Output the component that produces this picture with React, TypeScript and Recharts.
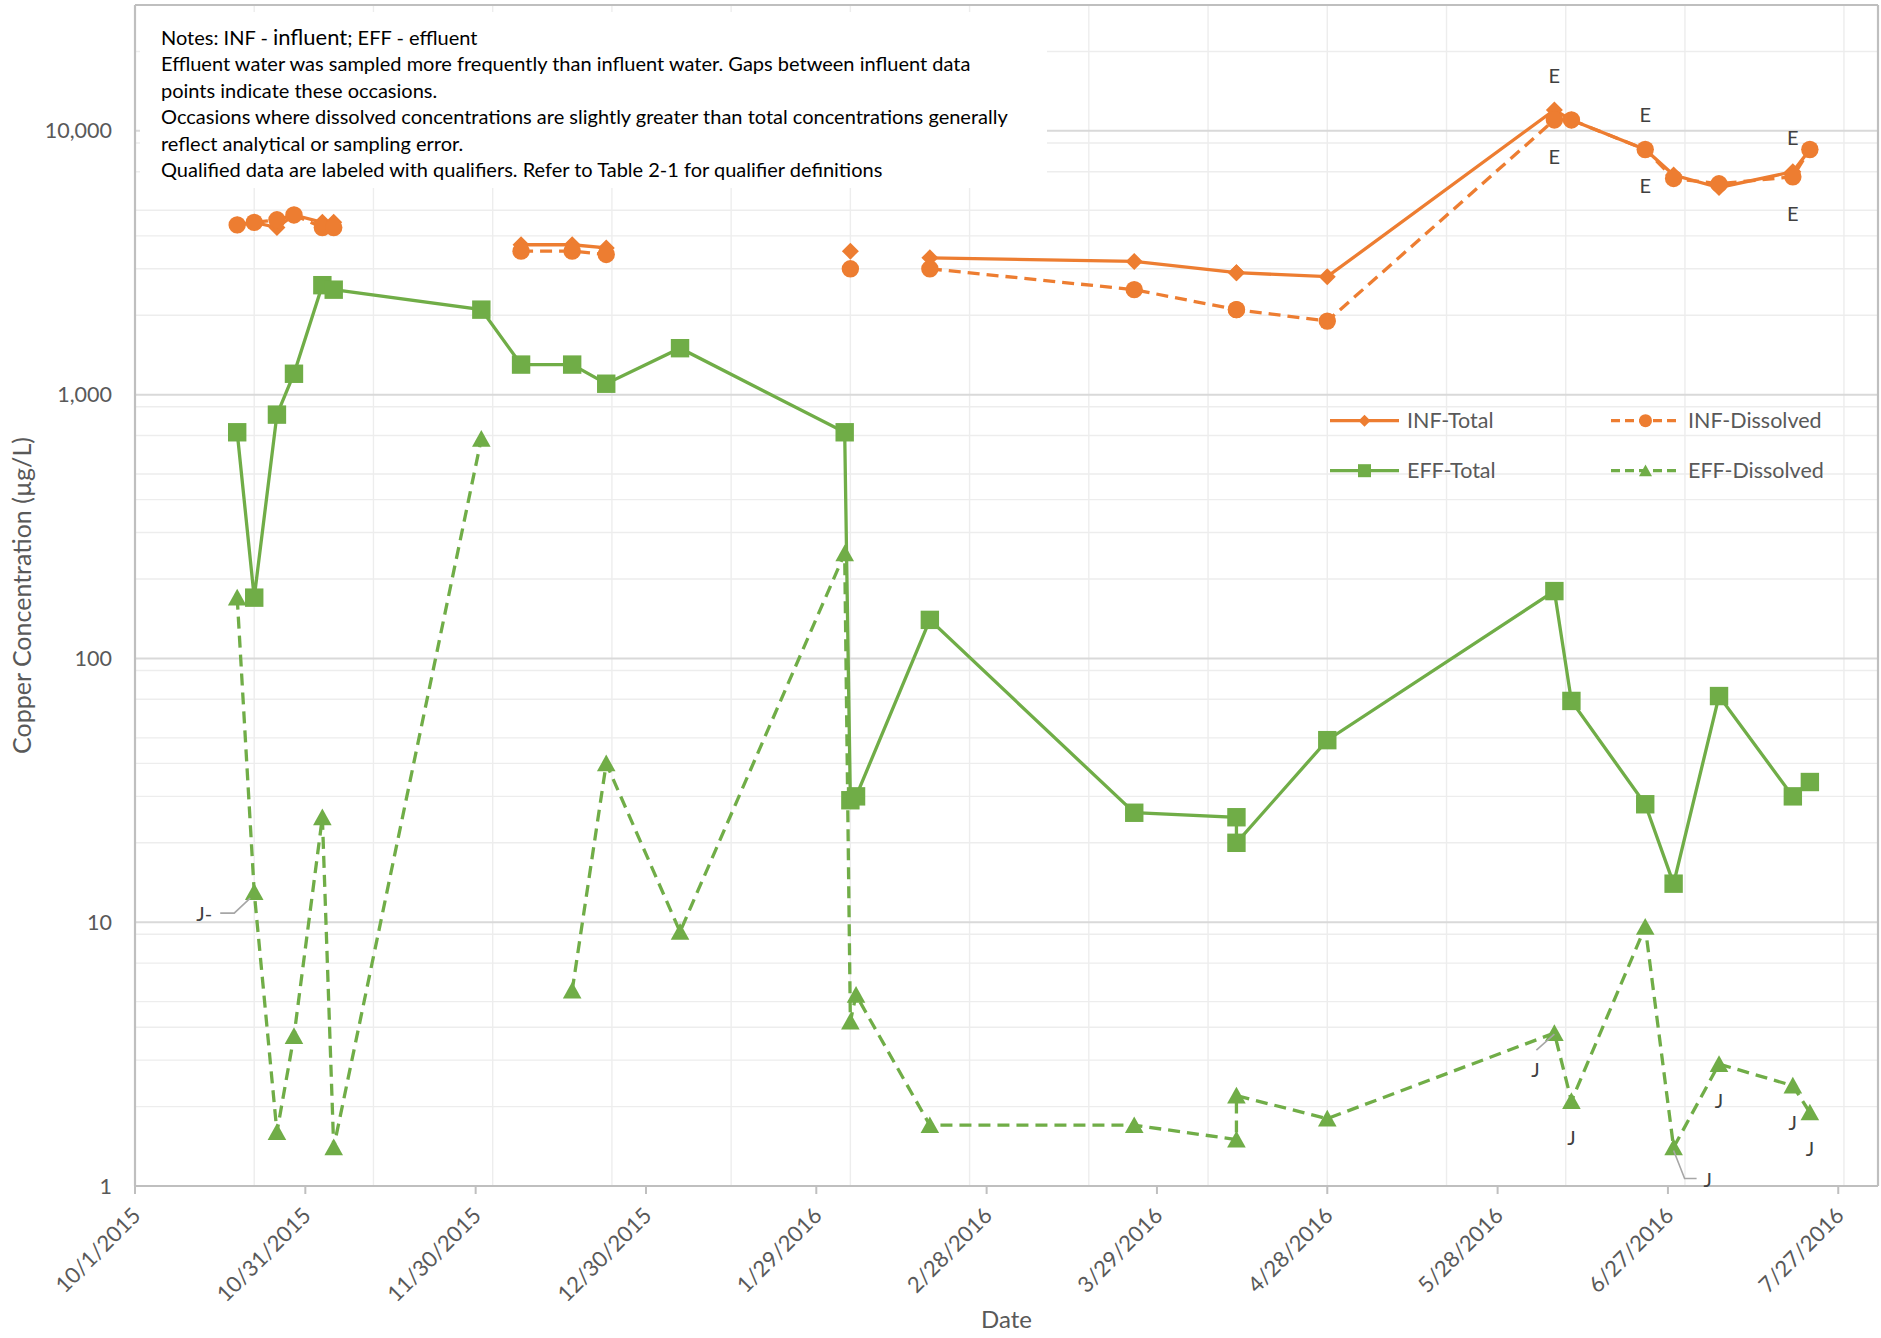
import React from 'react';
import {
  LineChart,
  Line,
  XAxis,
  YAxis,
  CartesianGrid,
  ReferenceLine,
  Legend,
  LabelList,
} from 'recharts';

// ---- sampling dates (two samples were taken on 4/12/2016) ----
const sampleDates = [
  '2015-10-19', '2015-10-22', '2015-10-26', '2015-10-29', '2015-11-03', '2015-11-05',
  '2015-12-01', '2015-12-08', '2015-12-17', '2015-12-23', '2016-01-05', '2016-02-03',
  '2016-02-04', '2016-02-05', '2016-02-18', '2016-03-25', '2016-04-12', '2016-04-12',
  '2016-04-28', '2016-06-07', '2016-06-10', '2016-06-23', '2016-06-28', '2016-07-06',
  '2016-07-19', '2016-07-22',
];

// ---- copper concentrations, µg/L (null = not sampled) ----
const infTotal = [
  4400, 4500, 4300, 4800, 4500, 4500, null, 3700, 3700, 3600, null, null, 3500, null,
  3300, 3200, 2900, 2900, 2800, 12000, 11000, 8500, 6800, 6100, 7000, 8500,
];
const infDissolved = [
  4400, 4500, 4600, 4800, 4300, 4300, null, 3500, 3500, 3400, null, null, 3000, null,
  3000, 2500, 2100, 2100, 1900, 11000, 11000, 8500, 6600, 6300, 6700, 8500,
];
const effTotal = [
  720, 170, 840, 1200, 2600, 2500, 2100, 1300, 1300, 1100, 1500, 720, 29, 30,
  140, 26, 25, 20, 49, 180, 69, 28, 14, 72, 30, 34,
];
const effDissolved = [
  170, 13, 1.6, 3.7, 25, 1.4, 680, null, 5.5, 40, 9.2, 250, 4.2, 5.3,
  1.7, 1.7, 1.5, 2.2, 1.8, 3.8, 2.1, 9.6, 1.4, 2.9, 2.4, 1.9,
];

// ---- data qualifiers ----
const infTotalQualifier = [
  null, null, null, null, null, null, null, null, null, null, null, null, null, null,
  null, null, null, null, null, 'E', null, 'E', null, null, 'E', null,
];
const infDissolvedQualifier = [
  null, null, null, null, null, null, null, null, null, null, null, null, null, null,
  null, null, null, null, null, 'E', null, 'E', null, null, 'E', null,
];
const effDissolvedQualifier = [
  null, 'J-', null, null, null, null, null, null, null, null, null, null, null, null,
  null, null, null, null, null, 'J', 'J', null, 'J', 'J', 'J', 'J',
];

// ---- axes ----
const axisStart = '2015-10-01';
const axisEnd = '2016-08-03';
const dateTickStepDays = 30;
const gridStepDays = 7;
const valueTicks = [1, 10, 100, 1000, 10000];
const valueMax = 30000;

const FONT = "Lato, 'Open Sans', 'DejaVu Sans', sans-serif";
const ORANGE = '#ED7D31';
const GREEN = '#70AD47';
const AXIS_GRAY = '#BFBFBF';
const TEXT_GRAY = '#595959';
const LABEL_GRAY = '#404040';
const DASH = '12 7';

const DAY_MS = 86400000;
const toTime = (iso: string) => {
  const [y, m, d] = iso.split('-').map(Number);
  return Date.UTC(y, m - 1, d);
};
const T0 = toTime(axisStart);
const T1 = toTime(axisEnd);

const dateTicks: number[] = [];
for (let t = T0; t <= T1; t += dateTickStepDays * DAY_MS) dateTicks.push(t);
const weekTicks: number[] = [];
for (let t = T0; t <= T1; t += gridStepDays * DAY_MS) weekTicks.push(t);
const minorValueTicks: number[] = [];
for (const decade of valueTicks) {
  for (let m = 2; m <= 9; m++) {
    if (m * decade <= valueMax) minorValueTicks.push(m * decade);
  }
}

const rows = sampleDates.map((d, i) => ({
  t: toTime(d),
  infTotal: infTotal[i],
  infDissolved: infDissolved[i],
  effTotal: effTotal[i],
  effDissolved: effDissolved[i],
  infTotalQ: infTotalQualifier[i],
  infDissolvedQ: infDissolvedQualifier[i],
  effDissolvedQ: effDissolvedQualifier[i],
}));

const formatDate = (t: number) => {
  const d = new Date(t);
  return `${d.getUTCMonth() + 1}/${d.getUTCDate()}/${d.getUTCFullYear()}`;
};

type Shape = 'diamond' | 'circle' | 'square' | 'triangle';

const marker = (shape: Shape, cx: number, cy: number, s: number, color: string, key?: string) => {
  switch (shape) {
    case 'diamond':
      return (
        <polygon key={key} points={`${cx},${cy - s} ${cx + s},${cy} ${cx},${cy + s} ${cx - s},${cy}`} fill={color} />
      );
    case 'circle':
      return <circle key={key} cx={cx} cy={cy} r={s} fill={color} />;
    case 'square':
      return <rect key={key} x={cx - s} y={cy - s} width={2 * s} height={2 * s} fill={color} />;
    default:
      return (
        <polygon
          key={key}
          points={`${cx},${cy - s * 0.95} ${cx + s},${cy + s * 0.85} ${cx - s},${cy + s * 0.85}`}
          fill={color}
        />
      );
  }
};

const dotRenderer = (shape: Shape, color: string, size: number) => (props: any) => {
  const { cx, cy, index, value } = props;
  if (cx == null || cy == null || value == null || Number.isNaN(cy)) return <g key={`e-${shape}-${index}`} />;
  return marker(shape, cx, cy, size, color, `m-${shape}-${index}`);
};

const labelPos = (props: any) => {
  const x = props.x ?? props.viewBox?.x;
  const y = props.y ?? props.viewBox?.y;
  return { x, y };
};

const labelText = (x: number, y: number, text: string, key?: string) => (
  <text
    key={key}
    x={x}
    y={y}
    dy="0.35em"
    textAnchor="middle"
    fontFamily={FONT}
    fontSize={20}
    fill={LABEL_GRAY}
  >
    {text}
  </text>
);

const qualifierAbove = (props: any) => {
  if (!props.value) return null;
  const { x, y } = labelPos(props);
  if (x == null || y == null) return null;
  return labelText(x, y - 34, props.value);
};

const qualifierBelow = (props: any) => {
  if (!props.value) return null;
  const { x, y } = labelPos(props);
  if (x == null || y == null) return null;
  return labelText(x, y + 37, props.value);
};

// where each effluent-dissolved qualifier sits relative to its point
const effDissolvedLabelLayout: Record<number, { dx: number; dy: number; leader?: number[][] }> = {
  1: { dx: -50, dy: 22, leader: [[-4, 6], [-20, 21], [-34, 21]] },
  19: { dx: -19, dy: 37, leader: [[-18, 17], [0, 1]] },
  22: { dx: 34, dy: 33, leader: [[0, 3], [11, 31], [23, 31]] },
};

const effDissolvedLabel = (props: any) => {
  if (!props.value) return null;
  const { x, y } = labelPos(props);
  if (x == null || y == null) return null;
  const layout = effDissolvedLabelLayout[props.index] ?? { dx: 0, dy: 37 };
  return (
    <g>
      {layout.leader && (
        <polyline
          points={layout.leader.map(([lx, ly]) => `${x + lx},${y + ly}`).join(' ')}
          fill="none"
          stroke="#A6A6A6"
          strokeWidth={1.6}
        />
      )}
      {labelText(x + layout.dx, y + layout.dy, props.value)}
    </g>
  );
};

const legendItems: { label: string; color: string; dashed: boolean; shape: Shape }[] = [
  { label: 'INF-Total', color: ORANGE, dashed: false, shape: 'diamond' },
  { label: 'INF-Dissolved', color: ORANGE, dashed: true, shape: 'circle' },
  { label: 'EFF-Total', color: GREEN, dashed: false, shape: 'square' },
  { label: 'EFF-Dissolved', color: GREEN, dashed: true, shape: 'triangle' },
];

const renderLegend = () => (
  <svg width={560} height={100} style={{ display: 'block' }}>
    {legendItems.map((item, i) => {
      const col = i % 2;
      const row = Math.floor(i / 2);
      const x0 = col === 0 ? 10 : 291;
      const y0 = row === 0 ? 25.7 : 75.7;
      return (
        <g key={item.label}>
          <line
            x1={x0}
            x2={x0 + 69}
            y1={y0}
            y2={y0}
            stroke={item.color}
            strokeWidth={3.2}
            strokeDasharray={item.dashed ? '9 5' : undefined}
          />
          {marker(item.shape, x0 + 34.5, y0, item.shape === 'diamond' ? 6 : 6.5, item.color)}
          <text
            x={x0 + 77}
            y={y0}
            dy="0.35em"
            fontFamily={FONT}
            fontSize={21.5}
            fill={TEXT_GRAY}
          >
            {item.label}
          </text>
        </g>
      );
    })}
  </svg>
);

const DateTick = (props: any) => {
  const { x, y, payload } = props;
  const tx = x + 7;
  const ty = y + 21;
  return (
    <text
      x={tx}
      y={ty}
      textAnchor="end"
      transform={`rotate(-45, ${tx}, ${ty})`}
      fontFamily={FONT}
      fontSize={22}
      fill={TEXT_GRAY}
    >
      {formatDate(payload.value)}
    </text>
  );
};

const dateTitle = (props: any) => {
  const vb = props.viewBox;
  return (
    <text
      x={vb.x + vb.width / 2}
      y={vb.y + 134}
      dy="0.35em"
      textAnchor="middle"
      fontFamily={FONT}
      fontSize={24}
      fill={TEXT_GRAY}
    >
      Date
    </text>
  );
};

const valueTitle = (props: any) => {
  const vb = props.viewBox;
  const cx = vb.x + 22;
  const cy = vb.y + vb.height / 2;
  return (
    <text
      x={cx}
      y={cy}
      dy="0.35em"
      textAnchor="middle"
      transform={`rotate(-90, ${cx}, ${cy})`}
      fontFamily={FONT}
      fontSize={25}
      fill={TEXT_GRAY}
    >
      Copper Concentration (µg/L)
    </text>
  );
};

const notesLines: React.ReactNode[] = [
  <>
    Notes: INF - <span style={{ fontSize: 22 }}>influent</span>; EFF - effluent
  </>,
  'Effluent water was sampled more frequently than influent water. Gaps between influent data',
  'points indicate these occasions.',
  'Occasions where dissolved concentrations are slightly greater than total concentrations generally',
  'reflect analytical or sampling error.',
  'Qualified data are labeled with qualifiers. Refer to Table 2-1 for qualifier definitions',
];

export default function App() {
  return (
    <div
      style={{
        position: 'absolute',
        left: 0,
        top: 0,
        width: 1881,
        height: 1338,
        background: '#ffffff',
        overflow: 'hidden',
      }}
    >
      <LineChart
        width={1881}
        height={1338}
        data={rows}
        margin={{ top: 5, right: 3, bottom: 0, left: 0 }}
      >
        <XAxis
          xAxisId="week"
          dataKey="t"
          type="number"
          domain={[T0, T1]}
          ticks={weekTicks}
          allowDataOverflow
          hide
        />
        <YAxis
          yAxisId="minor"
          type="number"
          scale="log"
          domain={[1, valueMax]}
          ticks={minorValueTicks}
          allowDataOverflow
          hide
        />
        <CartesianGrid xAxisId="week" yAxisId="minor" stroke="#EDEDED" strokeWidth={1.4} />
        <CartesianGrid vertical={false} stroke="#D9D9D9" strokeWidth={2} />

        <XAxis
          dataKey="t"
          type="number"
          domain={[T0, T1]}
          ticks={dateTicks}
          allowDataOverflow
          height={152}
          tickSize={8}
          tickMargin={2}
          axisLine={{ stroke: AXIS_GRAY, strokeWidth: 2.2 }}
          tickLine={{ stroke: AXIS_GRAY, strokeWidth: 2 }}
          tick={<DateTick />}
          interval={0}
          label={{ content: dateTitle }}
        />
        <YAxis
          type="number"
          scale="log"
          domain={[1, valueMax]}
          ticks={valueTicks}
          allowDataOverflow
          width={135}
          tickSize={8}
          tickMargin={15}
          tickLine={false}
          axisLine={{ stroke: AXIS_GRAY, strokeWidth: 2.2 }}
          tick={{ fill: TEXT_GRAY, fontSize: 21.5, fontFamily: FONT }}
          tickFormatter={(v: number) => v.toLocaleString('en-US')}
          interval={0}
          label={{ content: valueTitle }}
        />

        <ReferenceLine y={valueMax} stroke={AXIS_GRAY} strokeWidth={2.2} />
        <ReferenceLine x={T1} stroke={AXIS_GRAY} strokeWidth={2.2} />

        <Line
          dataKey="infTotal"
          name="INF-Total"
          stroke={ORANGE}
          strokeWidth={3.3}
          dot={dotRenderer('diamond', ORANGE, 8.5)}
          activeDot={false}
          isAnimationActive={false}
        >
          <LabelList dataKey="infTotalQ" content={qualifierAbove} />
        </Line>
        <Line
          dataKey="infDissolved"
          name="INF-Dissolved"
          stroke={ORANGE}
          strokeWidth={3.3}
          strokeDasharray={DASH}
          dot={dotRenderer('circle', ORANGE, 8.7)}
          activeDot={false}
          isAnimationActive={false}
        >
          <LabelList dataKey="infDissolvedQ" content={qualifierBelow} />
        </Line>
        <Line
          dataKey="effTotal"
          name="EFF-Total"
          stroke={GREEN}
          strokeWidth={3.3}
          dot={dotRenderer('square', GREEN, 9.2)}
          activeDot={false}
          isAnimationActive={false}
        />
        <Line
          dataKey="effDissolved"
          name="EFF-Dissolved"
          stroke={GREEN}
          strokeWidth={3.3}
          strokeDasharray={DASH}
          dot={dotRenderer('triangle', GREEN, 9.3)}
          activeDot={false}
          isAnimationActive={false}
        >
          <LabelList dataKey="effDissolvedQ" content={effDissolvedLabel} />
        </Line>

        <Legend
          layout="horizontal"
          verticalAlign="middle"
          align="center"
          wrapperStyle={{ left: 1320, top: 395, width: 560, height: 100 }}
          content={renderLegend}
        />
      </LineChart>

      <div
        style={{
          position: 'absolute',
          left: 140,
          top: 12,
          width: 907,
          height: 176,
          background: '#ffffff',
          boxSizing: 'border-box',
          paddingLeft: 21,
          paddingTop: 12,
          fontFamily: FONT,
          fontSize: 20,
          lineHeight: '26.4px',
          color: '#000000',
          whiteSpace: 'nowrap',
        }}
      >
        {notesLines.map((line, i) => (
          <div key={i}>{line}</div>
        ))}
      </div>
    </div>
  );
}
